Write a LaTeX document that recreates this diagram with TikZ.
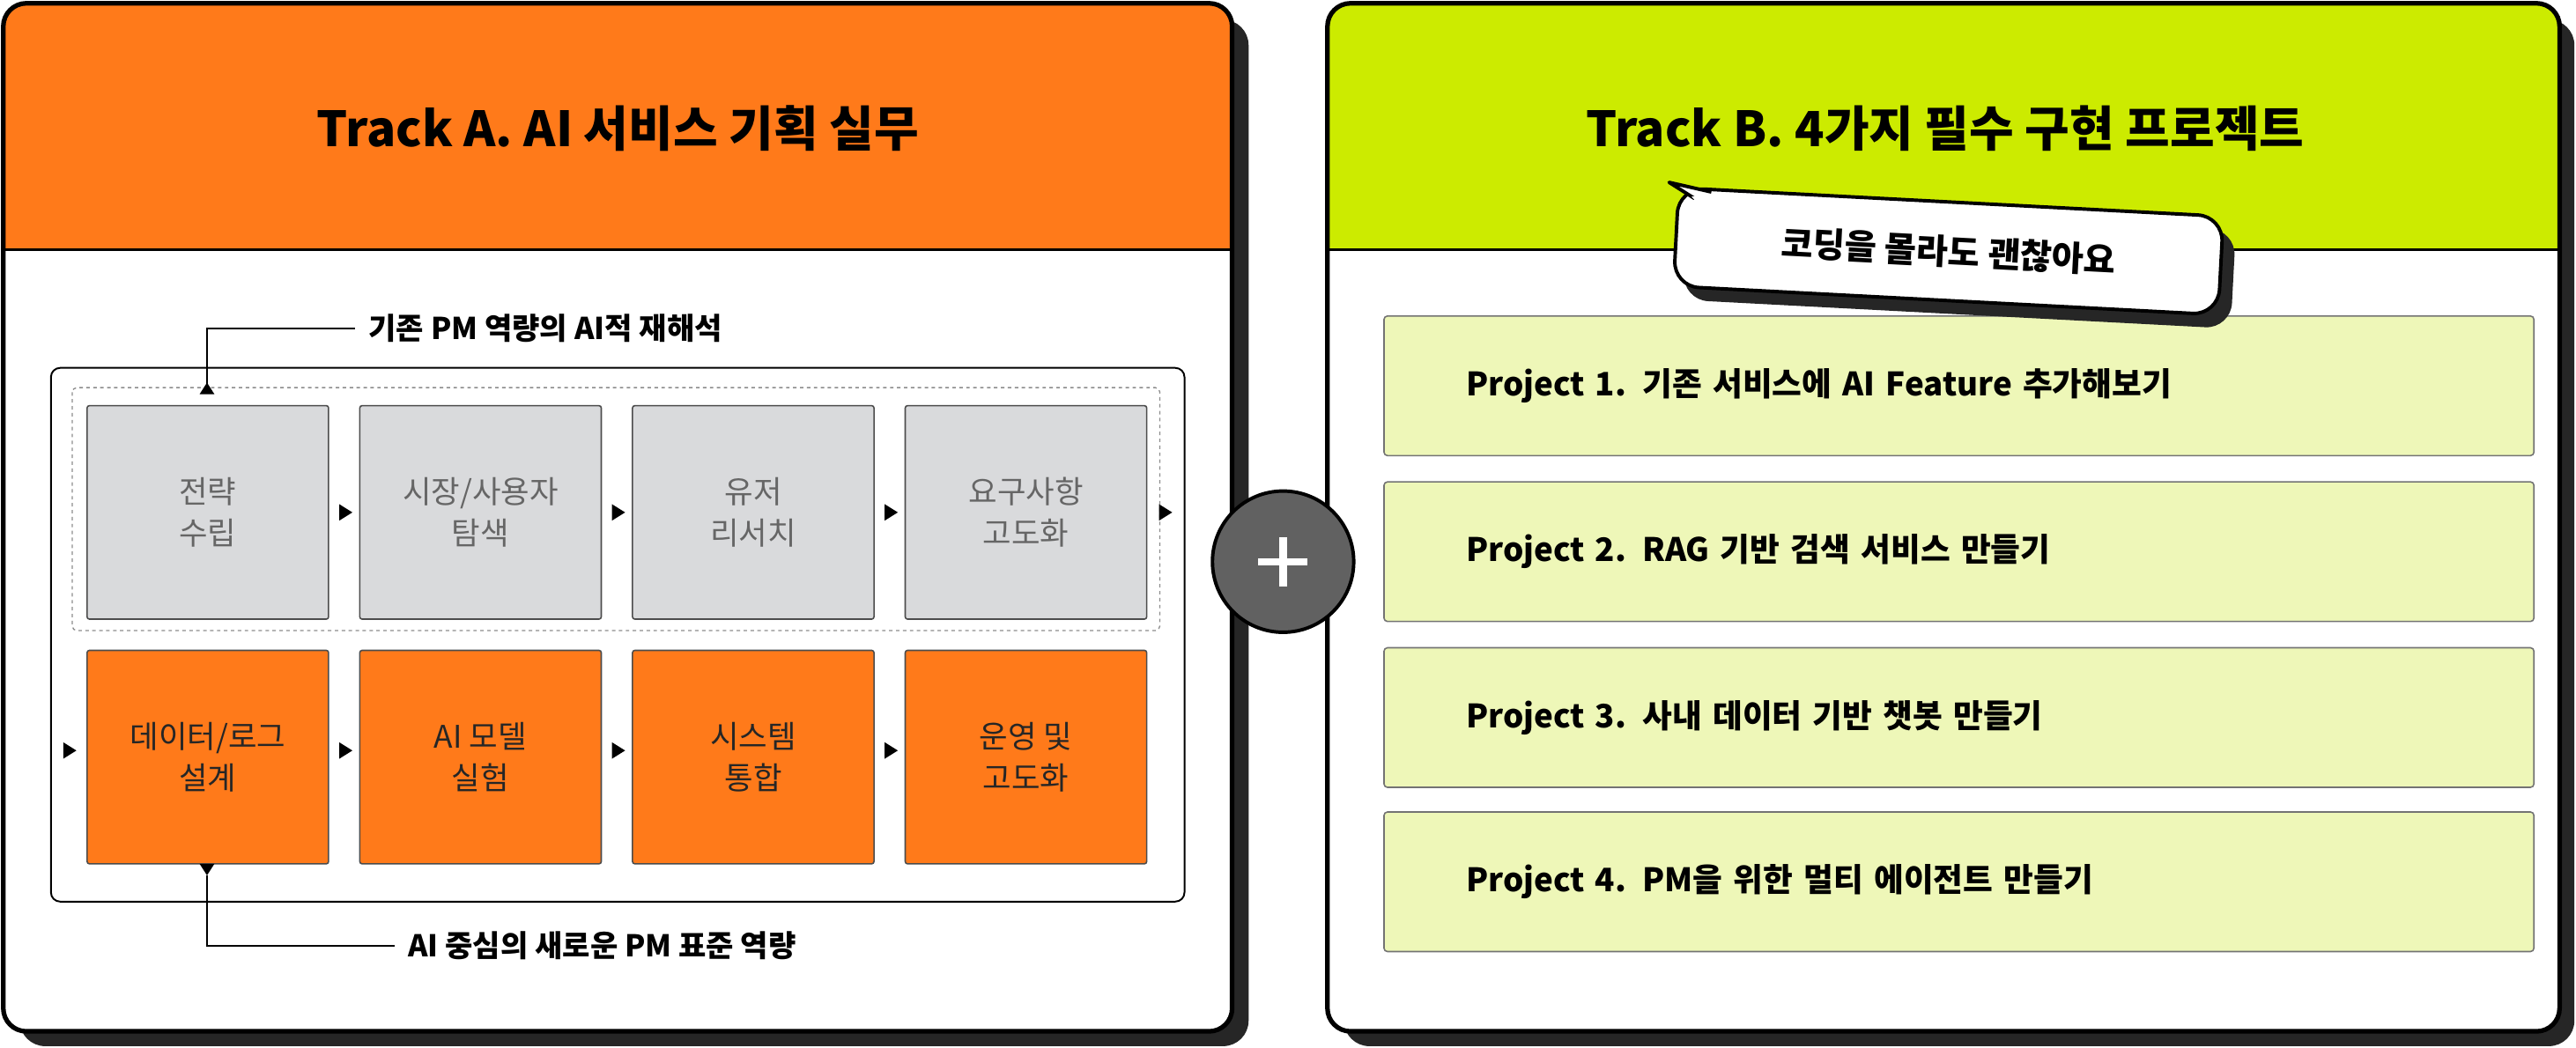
\documentclass[tikz,border=0pt]{standalone}
\usepackage{fontspec}
\setmainfont{Noto Sans CJK KR}
\definecolor{org}{HTML}{FF7A1A}
\definecolor{lime}{HTML}{CCEB00}
\definecolor{limel}{HTML}{EEF7B8}
\definecolor{gbox}{HTML}{D9DADC}
\begin{document}
\begin{tikzpicture}[x=0.05cm,y=-0.05cm,
 card/.style={draw=black,line width=4pt,rounded corners=20pt},
 sbox/.style={draw=black!70,line width=1.2pt,rounded corners=2pt,minimum width=7.35cm,minimum height=6.5cm,align=center,font=\fontsize{27}{36}\selectfont},
 gstep/.style={sbox,fill=gbox,text=black!60},
 ostep/.style={sbox,fill=org,text=black!85},
 proj/.style={draw=black!55,line width=1.2pt,fill=limel,rounded corners=3pt,minimum width=34cm,minimum height=4.25cm,anchor=north west,text width=30cm,font=\bfseries\fontsize{28}{34}\selectfont,inner xsep=2.5cm},
 lbl/.style={font=\bfseries\fontsize{26}{30}\selectfont,anchor=west}]
\useasboundingbox (0,0) rectangle (1568,638);
% shadows
\fill[black!85,rounded corners=22pt] (12,12) rectangle (760,637);
\fill[black!85,rounded corners=22pt] (818,12) rectangle (1567,637);
% left card
\begin{scope}
\clip[rounded corners=20pt] (2,2) rectangle (750,628);
\fill[white] (2,2) rectangle (750,628);
\fill[org] (2,2) rectangle (750,152);
\end{scope}
\draw[card] (2,2) rectangle (750,628);
\draw[line width=2pt] (2,152) -- (750,152);
\node[font=\bfseries\fontsize{42}{50}\selectfont] (tA) at (376,78) {Track A. AI 서비스 기획 실무};
% right card
\begin{scope}
\clip[rounded corners=20pt] (808,2) rectangle (1558,628);
\fill[white] (808,2) rectangle (1558,628);
\fill[lime] (808,2) rectangle (1558,152);
\end{scope}
\draw[card] (808,2) rectangle (1558,628);
\draw[line width=2pt] (808,152) -- (1558,152);
\node[font=\bfseries\fontsize{42}{50}\selectfont] (tB) at (1184,78) {Track B. 4가지 필수 구현 프로젝트};
% projects
\node[proj] (p1) at (842,192) {Project 1. 기존 서비스에 AI Feature 추가해보기};
\node[proj] (p2) at (842,293) {Project 2. RAG 기반 검색 서비스 만들기};
\node[proj] (p3) at (842,394) {Project 3. 사내 데이터 기반 챗봇 만들기};
\node[proj] (p4) at (842,494) {Project 4. PM을 위한 멀티 에이전트 만들기};
% bubble
\begin{scope}[shift={(1186,153)},rotate=-3]
\fill[black!85,rounded corners=22pt] (-160,-22) rectangle (174,38);
\draw[line width=3pt,fill=white,rounded corners=22pt] (-166,-30) rectangle (166,30);
\draw[line width=3pt,fill=white,line join=round] (-156,-24) -- (-172,-33) -- (-146,-28.5);
\fill[white] (-158,-25) -- (-142,-27) -- (-150,-18) -- cycle;
\node[font=\bfseries\fontsize{30}{36}\selectfont,rotate=-3] (bub) at (0,0) {코딩을 몰라도 괜찮아요};
\end{scope}
% plus
\node[circle,fill=black!62,draw=black,line width=3pt,minimum size=4.3cm] (plus) at (781,342) {};
\draw[white,line width=6.5pt] (766,342) -- (796,342) (781,327) -- (781,357);
% left inner
\draw[line width=1.5pt,rounded corners=8pt] (31,224) rectangle (721,549);
\draw[black!45,line width=1pt,dashed,rounded corners=4pt] (44,236) rectangle (706,384);
\node[gstep] (g1) at (126.5,312) {전략\\수립};
\node[gstep] (g2) at (292.5,312) {시장/사용자\\탐색};
\node[gstep] (g3) at (458.5,312) {유저\\리서치};
\node[gstep] (g4) at (624.5,312) {요구사항\\고도화};
\node[ostep] (o1) at (126.5,461) {데이터/로그\\설계};
\node[ostep] (o2) at (292.5,461) {AI 모델\\실험};
\node[ostep] (o3) at (458.5,461) {시스템\\통합};
\node[ostep] (o4) at (624.5,461) {운영 및\\고도화};
\foreach \x/\y in {210/312,376/312,542/312,709/312,42/457,210/457,376/457,542/457}
 \fill (\x-3.5,\y-5) -- (\x+4.5,\y) -- (\x-3.5,\y+5) -- cycle;
% labels
\node[lbl] (lt) at (222,200) {기존 PM 역량의 AI적 재해석};
\node[lbl] (lb) at (246,576) {AI 중심의 새로운 PM 표준 역량};
\coordinate (ct) at (126,233);
\coordinate (cb) at (126,527);
\draw[line width=1.2pt] (lt.west) ++(-6,0) -| (126,239);
\fill (ct) -- ++(-4.5,7) -- ++(9,0) -- cycle;
\draw[line width=1.2pt] (lb.west) ++(-6,0) -| (126,533);
\fill (cb) ++(0,6) -- ++(-4.5,-7) -- ++(9,0) -- cycle;
\end{tikzpicture}
\end{document}
